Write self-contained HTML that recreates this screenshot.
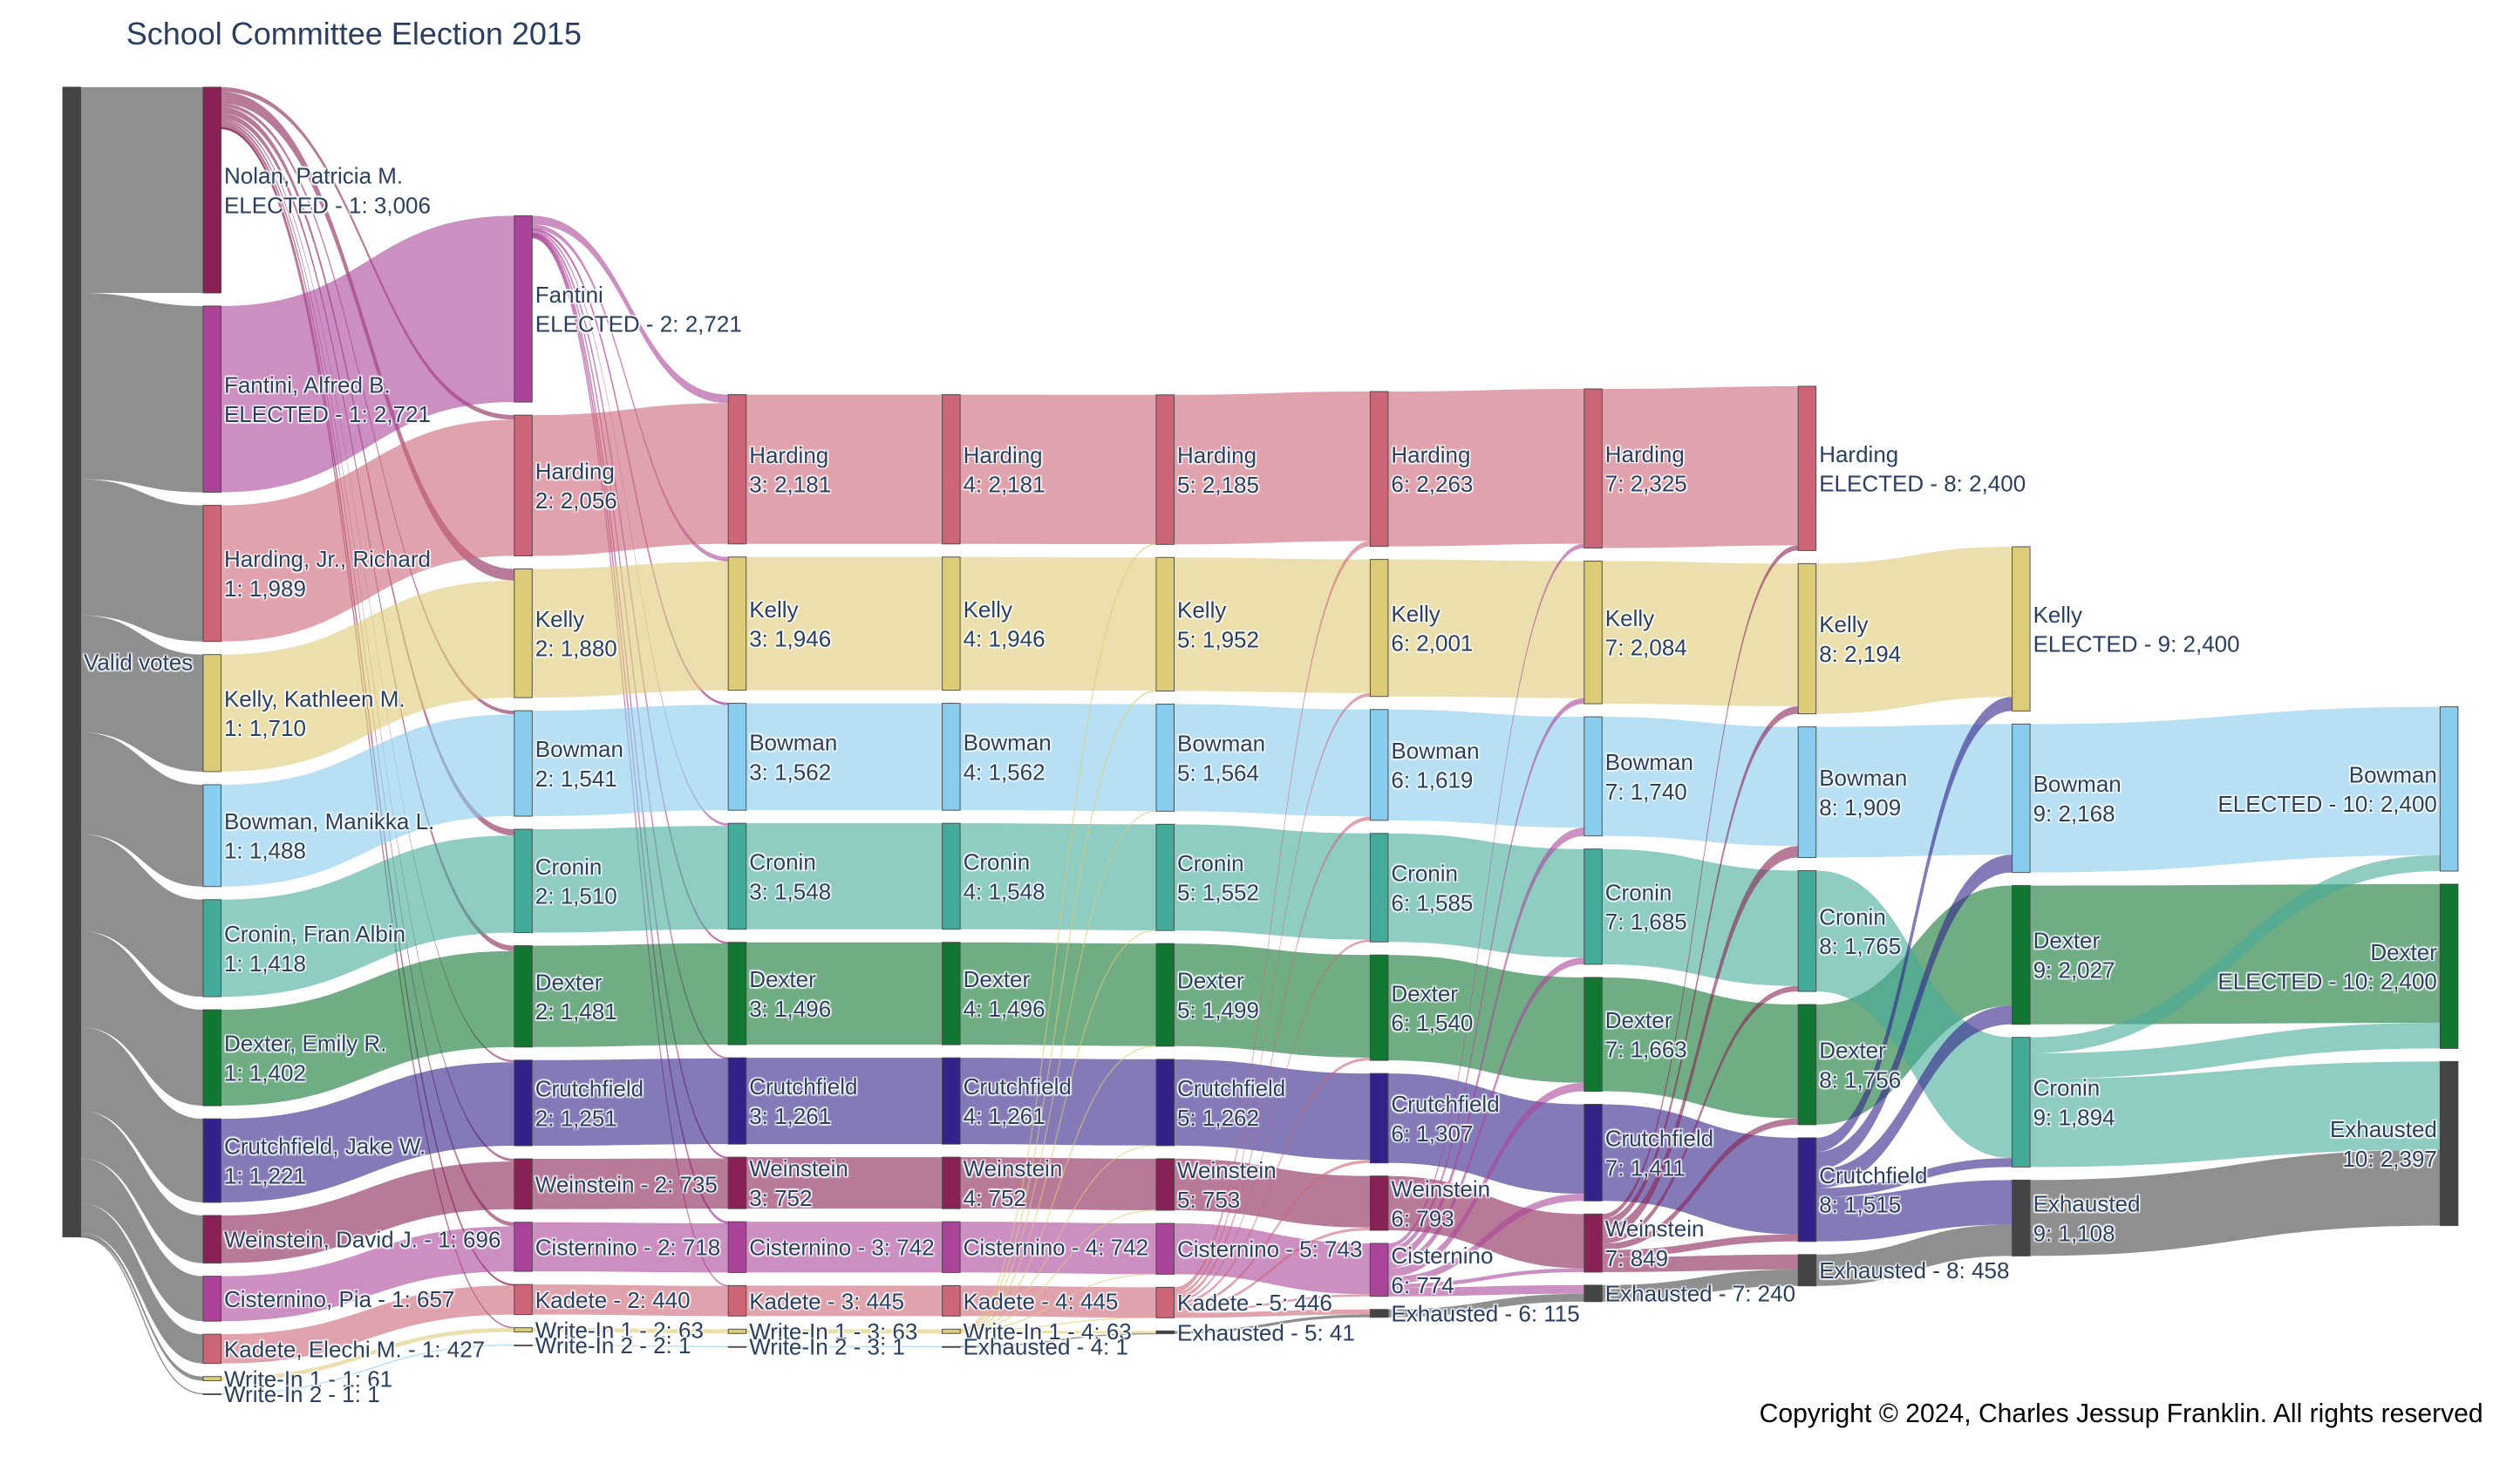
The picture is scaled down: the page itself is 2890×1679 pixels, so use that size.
<!DOCTYPE html>
<html lang="en">
<head>
<meta charset="utf-8">
<title>School Committee Election 2015</title>
<style>
html,body{margin:0;padding:0;background:#fff;}
svg{display:block;font-family:"Liberation Sans",Arial,sans-serif;}
.node-label{font-size:26px;fill:#2a3f5f;text-shadow:1.4px 1.4px 1.4px #fff,-1.4px -1.4px 1.4px #fff,1.4px -1.4px 1.4px #fff,-1.4px 1.4px 1.4px #fff;}
</style>
</head>
<body>
<svg id="chart" xmlns="http://www.w3.org/2000/svg" width="2890" height="1679" viewBox="0 0 2890 1679">
<rect x="0" y="0" width="2890" height="1679" fill="#fff"/>
<text x="144.7" y="51" font-size="36" fill="#2a3f5f">School Committee Election 2015</text>
<g id="links"></g>
<g id="nodes"></g>
<g id="labels"></g>
<text x="2017.6" y="1631" font-size="30.1" fill="#000">Copyright © 2024, Charles Jessup Franklin. All rights reserved</text>
</svg>
<script>
// Data: node key = candidate letter + round column
const nodeKeys = [
 "V0",
 "N1","F1","H1","K1","B1","R1","D1","C1","W1","I1","A1","X1","Y1",
 "F2","H2","K2","B2","R2","D2","C2","W2","I2","A2","X2","Y2",
 "H3","K3","B3","R3","D3","C3","W3","I3","A3","X3","Y3",
 "H4","K4","B4","R4","D4","C4","W4","I4","A4","X4","E4",
 "H5","K5","B5","R5","D5","C5","W5","I5","A5","E5",
 "H6","K6","B6","R6","D6","C6","W6","I6","E6",
 "H7","K7","B7","R7","D7","C7","W7","E7",
 "H8","K8","B8","R8","D8","C8","E8",
 "K9","B9","D9","R9","E9",
 "B10","D10","E10"
];
const nodeLabels = [
 "Valid votes",
 "Nolan, Patricia M.\nELECTED - 1","Fantini, Alfred B.\nELECTED - 1","Harding, Jr., Richard\n1","Kelly, Kathleen M.\n1","Bowman, Manikka L.\n1","Cronin, Fran Albin\n1","Dexter, Emily R.\n1","Crutchfield, Jake W.\n1","Weinstein, David J. - 1","Cisternino, Pia - 1","Kadete, Elechi M. - 1","Write-In 1 - 1","Write-In 2 - 1",
 "Fantini\nELECTED - 2","Harding\n2","Kelly\n2","Bowman\n2","Cronin\n2","Dexter\n2","Crutchfield\n2","Weinstein - 2","Cisternino - 2","Kadete - 2","Write-In 1 - 2","Write-In 2 - 2",
 "Harding\n3","Kelly\n3","Bowman\n3","Cronin\n3","Dexter\n3","Crutchfield\n3","Weinstein\n3","Cisternino - 3","Kadete - 3","Write-In 1 - 3","Write-In 2 - 3",
 "Harding\n4","Kelly\n4","Bowman\n4","Cronin\n4","Dexter\n4","Crutchfield\n4","Weinstein\n4","Cisternino - 4","Kadete - 4","Write-In 1 - 4","Exhausted - 4",
 "Harding\n5","Kelly\n5","Bowman\n5","Cronin\n5","Dexter\n5","Crutchfield\n5","Weinstein\n5","Cisternino - 5","Kadete - 5","Exhausted - 5",
 "Harding\n6","Kelly\n6","Bowman\n6","Cronin\n6","Dexter\n6","Crutchfield\n6","Weinstein\n6","Cisternino\n6","Exhausted - 6",
 "Harding\n7","Kelly\n7","Bowman\n7","Cronin\n7","Dexter\n7","Crutchfield\n7","Weinstein\n7","Exhausted - 7",
 "Harding\nELECTED - 8","Kelly\n8","Bowman\n8","Cronin\n8","Dexter\n8","Crutchfield\n8","Exhausted - 8",
 "Kelly\nELECTED - 9","Bowman\n9","Dexter\n9","Cronin\n9","Exhausted\n9",
 "Bowman\nELECTED - 10","Dexter\nELECTED - 10","Exhausted\n10"
];
const linkSources = [
 "V0","V0","V0","V0","V0","V0","V0","V0","V0","V0","V0","V0","V0",
 "N1","N1","N1","N1","N1","N1","N1","N1","N1","N1",
 "F1","H1","K1","B1","R1","D1","C1","W1","I1","A1","X1","Y1",
 "F2","F2","F2","F2","F2","F2","F2","F2","F2",
 "H2","K2","B2","R2","D2","C2","W2","I2","A2","X2","Y2",
 "H3","K3","B3","R3","D3","C3","W3","I3","A3","X3","Y3",
 "H4","K4","B4","R4","D4","C4","W4","I4","A4","E4",
 "X4","X4","X4","X4","X4","X4","X4","X4","X4","X4",
 "H5","K5","B5","R5","D5","C5","W5","I5","E5",
 "A5","A5","A5","A5","A5","A5","A5","A5","A5",
 "H6","K6","B6","R6","D6","C6","W6","E6",
 "I6","I6","I6","I6","I6","I6","I6","I6",
 "H7","K7","B7","R7","D7","C7","E7",
 "W7","W7","W7","W7","W7","W7","W7",
 "K8","B8","D8","R8","E8",
 "C8","C8","C8","C8","C8",
 "B9","D9","E9",
 "R9","R9","R9"
];
const linkTargets = [
 "N1","F1","H1","K1","B1","R1","D1","C1","W1","I1","A1","X1","Y1",
 "H2","K2","B2","R2","D2","C2","W2","I2","A2","X2",
 "F2","H2","K2","B2","R2","D2","C2","W2","I2","A2","X2","Y2",
 "H3","K3","B3","R3","D3","C3","W3","I3","A3",
 "H3","K3","B3","R3","D3","C3","W3","I3","A3","X3","Y3",
 "H4","K4","B4","R4","D4","C4","W4","I4","A4","X4","E4",
 "H5","K5","B5","R5","D5","C5","W5","I5","A5","E5",
 "H5","K5","B5","R5","D5","C5","W5","I5","A5","E5",
 "H6","K6","B6","R6","D6","C6","W6","I6","E6",
 "H6","K6","B6","R6","D6","C6","W6","I6","E6",
 "H7","K7","B7","R7","D7","C7","W7","E7",
 "H7","K7","B7","R7","D7","C7","W7","E7",
 "H8","K8","B8","R8","D8","C8","E8",
 "H8","K8","B8","R8","D8","C8","E8",
 "K9","B9","D9","R9","E9",
 "K9","B9","D9","R9","E9",
 "B10","D10","E10",
 "B10","D10","E10"
];
const linkValues = [
 3006,2721,1989,1710,1488,1418,1402,1221,696,657,427,61,1,
 67,170,53,92,79,30,39,61,13,2,
 2721,1989,1710,1488,1418,1402,1221,696,657,427,61,1,
 125,66,21,38,15,10,17,24,5,
 2056,1880,1541,1510,1481,1251,735,718,440,63,1,
 2181,1946,1562,1548,1496,1261,752,742,445,63,1,
 2181,1946,1562,1548,1496,1261,752,742,445,1,
 4,6,2,4,3,1,1,1,1,40,
 2185,1952,1564,1552,1499,1262,753,743,41,
 78,49,55,33,41,45,40,31,74,
 2263,2001,1619,1585,1540,1307,793,115,
 62,83,121,100,123,104,56,125,
 2325,2084,1740,1685,1663,1411,240,
 75,110,169,80,93,104,218,
 2194,1909,1756,1765,458,
 206,259,271,129,650,
 2168,2027,1108,
 232,373,1289
];

// Layout and style settings
const plotLeft = 72, columnStep = 245.4, nodeWidth = 20.5, nodePad = 15, pxPerVote = 0.0785;
const thinLinkPx = 2, thinLinkStroke = 1.3, minNodePx = 1;
const layoutColumnSteps = [0,0.656,2.11,3.11,4.11,5.11,6.11,7.11,8.11,9.11,11.11];
const layoutColumnTops = [100,100,247.5,452.6,452.6,452.8,449,446,443,627,810.6];
const candidateColors = {V:"68,68,68",E:"68,68,68",N:"136,34,85",W:"136,34,85",F:"170,68,153",I:"170,68,153",H:"204,102,119",A:"204,102,119",K:"221,204,119",X:"221,204,119",B:"136,204,238",Y:"136,204,238",R:"68,170,153",D:"17,119,51",C:"51,34,136"};
const xScale = function(col){ return plotLeft + columnStep * layoutColumnSteps[col]; };
const hScale = function(v){ return v * pxPerVote; };
const fmt = function(n){ return String(n).replace(/\B(?=(\d{3})+$)/g, ","); };
const NS = "http://www.w3.org/2000/svg";

// Build nodes
const nodes = {};
nodeKeys.forEach(function(key, i){
  nodes[key] = {key:key, label:nodeLabels[i], col:+key.slice(1), color:candidateColors[key[0]], inSum:0, outSum:0, inLinks:[], outLinks:[]};
});
const links = linkValues.map(function(v, i){
  const link = {s:nodes[linkSources[i]], t:nodes[linkTargets[i]], v:v};
  link.s.outSum += v;
  link.t.inSum += v;
  link.s.outLinks.push(link);
  link.t.inLinks.push(link);
  return link;
});

// Stack nodes in each column
const nextY = {};
nodeKeys.forEach(function(key){
  const n = nodes[key];
  if(nextY[n.col] === undefined){ nextY[n.col] = layoutColumnTops[n.col]; }
  n.value = Math.max(n.inSum, n.outSum);
  n.h = hScale(n.value);
  n.y = nextY[n.col];
  n.x = xScale(n.col);
  n.cy = n.y + n.h / 2;
  nextY[n.col] = n.y + n.h + nodePad;
});

// Stack link ends within nodes, ordered by the other end's position
nodeKeys.forEach(function(key){
  const n = nodes[key];
  n.outLinks.sort(function(a,b){ return a.t.cy - b.t.cy; });
  n.inLinks.sort(function(a,b){ return a.s.cy - b.s.cy; });
  let y = n.y;
  n.outLinks.forEach(function(l){ l.sy = y; y += hScale(l.v); });
  y = n.y;
  n.inLinks.forEach(function(l){ l.ty = y; y += hScale(l.v); });
});

// Draw links
const linkLayer = document.getElementById("links");
links.forEach(function(l){
  const x0 = l.s.x + nodeWidth, x1 = l.t.x, xm = (x0 + x1) / 2, th = hScale(l.v);
  const p = document.createElementNS(NS, "path");
  p.setAttribute("d", "M"+x0+" "+l.sy+"C"+xm+" "+l.sy+" "+xm+" "+l.ty+" "+x1+" "+l.ty+"L"+x1+" "+(l.ty+th)+"C"+xm+" "+(l.ty+th)+" "+xm+" "+(l.sy+th)+" "+x0+" "+(l.sy+th)+"Z");
  p.setAttribute("fill", "rgba("+l.s.color+",0.6)");
  if(th <= thinLinkPx){
    p.setAttribute("stroke", "rgba("+l.s.color+",0.6)");
    p.setAttribute("stroke-width", thinLinkStroke);
  }
  
  
  linkLayer.appendChild(p);
});

// Draw nodes and labels
const nodeLayer = document.getElementById("nodes");
const labelLayer = document.getElementById("labels");
nodeKeys.forEach(function(key){
  const n = nodes[key];
  const r = document.createElementNS(NS, "rect");
  r.setAttribute("x", n.x);
  r.setAttribute("y", n.y);
  r.setAttribute("width", nodeWidth);
  r.setAttribute("height", Math.max(n.h, minNodePx));
  r.setAttribute("fill", "rgb(" + n.color + ")");
  r.setAttribute("stroke", "rgb(68,68,68)");
  r.setAttribute("stroke-opacity", "0.9");
  r.setAttribute("stroke-width", "1");
  
  
  nodeLayer.appendChild(r);

  const full = key === "V0" ? n.label : n.label + ": " + fmt(n.value);
  const lines = full.split("\n");
  const right = n.col === 10;
  const tx = right ? n.x - 3.5 : n.x + nodeWidth + 3.5;
  const t = document.createElementNS(NS, "text");
  t.setAttribute("class", "node-label");
  t.setAttribute("text-anchor", right ? "end" : "start");
  
  
  lines.forEach(function(line, i){
    const s = document.createElementNS(NS, "tspan");
    s.setAttribute("x", tx);
    const base = lines.length === 2 ? n.cy - 7.4 + i * 33.8 : n.cy + 9.4;
    s.setAttribute("y", base);
    s.textContent = line;
    t.appendChild(s);
  });
  labelLayer.appendChild(t);
});
</script>
</body>
</html>
